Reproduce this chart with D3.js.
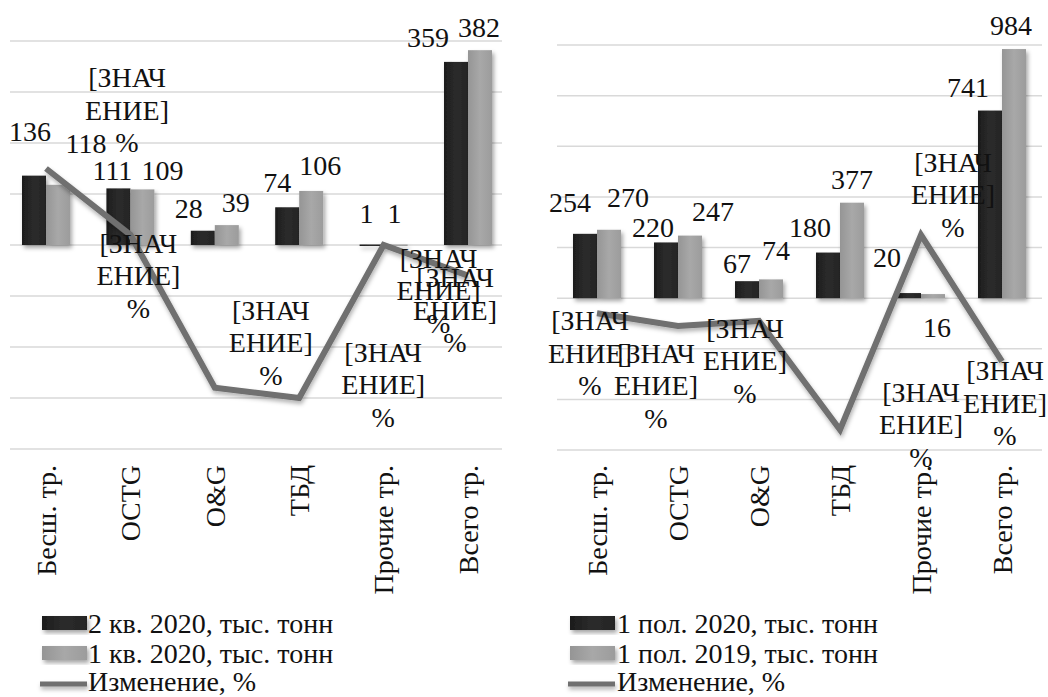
<!DOCTYPE html>
<html>
<head>
<meta charset="utf-8">
<script src="https://cdn.jsdelivr.net/npm/d3@7"></script>
</head>
<body style="margin:0">
<svg id="chart" width="1048" height="697"></svg>
<script>
// ---------- DATA ----------
const categories = ["Бесш. тр.", "OCTG", "O&G", "ТБД", "Прочие тр.", "Всего тр."];

// Left chart: 2 кв. 2020 vs 1 кв. 2020
const leftSeriesNames = ["2 кв. 2020, тыс. тонн", "1 кв. 2020, тыс. тонн", "Изменение, %"];
const leftQ2_2020 = [136, 111, 28, 74, 1, 359];
const leftQ1_2020 = [118, 109, 39, 106, 1, 382];
const leftChange = [15, 2, -28, -30, 0, -6];
const leftPrimaryTicks = [-400, -300, -200, -100, 0, 100, 200, 300, 400];

// Right chart: 1 пол. 2020 vs 1 пол. 2019
const rightSeriesNames = ["1 пол. 2020, тыс. тонн", "1 пол. 2019, тыс. тонн", "Изменение, %"];
const rightH1_2020 = [254, 220, 67, 180, 20, 741];
const rightH1_2019 = [270, 247, 74, 377, 16, 984];
const rightChange = [-6, -11, -9, -52, 25, -25];
const rightPrimaryTicks = [-600, -400, -200, 0, 200, 400, 600, 800, 1000];

const lineLabelText = ["[ЗНАЧ", "ЕНИЕ]", "%"];

// ---------- LAYOUT (label nudges, px) ----------
const leftLayout = {
  xRange: [3.8, 510.2], gridX: [10, 502], yRange: [449, 41],
  y1: [-400, 400], y2: [-40, 40],
  darkNudge: [[-4,-44],[-6,-18],[-14,-23],[-10,-25],[-5,-31],[-28,-25]],
  lightNudge: [[28,-42],[20,-19],[9,-23],[9,-26],[-1,-31],[-1,-23]],
  lineNudge: [[81,-91],[8,8],[56,-78],[84,-46],[55,13],[-13,2]],
  legendX: 42, legendTextX: 88
};
const rightLayout = {
  xRange: [556.5, 1042.5], gridX: [557, 1042], yRange: [450, 45],
  y1: [-600, 1000], y2: [-60, 100],
  darkNudge: [[-15,-32],[-13,-15],[-10,-18],[-18,-25],[-22,-36],[-22,-23]],
  lightNudge: [[19,-33],[23,-24],[5,-29],[0,-23],[4,33],[-3,-24]],
  lineNudge: [[-7,7],[-22,27],[-14,7],[81,-38],[32,-73],[3,9]],
  legendX: 570, legendTextX: 617
};

const FS = 28;
const FONT = "Liberation Serif";

const svg = d3.select("#chart");
const defs = svg.append("defs");

function txt(sel) {
  return sel.attr("font-family", FONT).attr("font-size", FS).attr("fill", "#111");
}

function grad(id, stops) {
  const g = defs.append("linearGradient").attr("id", id)
    .attr("x1", "0").attr("x2", "1").attr("y1", "0").attr("y2", "0");
  stops.forEach(([o, c]) => g.append("stop").attr("offset", o).attr("stop-color", c));
}
grad("gDark", [["0", "#1c1c1c"], ["0.5", "#2c2c2c"], ["1", "#242424"]]);
grad("gLight", [["0", "#959595"], ["0.5", "#a8a8a8"], ["1", "#9c9c9c"]]);

const shadow = defs.append("filter").attr("id", "shadow")
  .attr("x", "-30%").attr("y", "-30%").attr("width", "160%").attr("height", "160%");
shadow.append("feDropShadow").attr("dx", 2).attr("dy", 3).attr("stdDeviation", 2)
  .attr("flood-color", "#000").attr("flood-opacity", 0.35);

const lshadow = defs.append("filter").attr("id", "lshadow")
  .attr("filterUnits", "userSpaceOnUse")
  .attr("x", 0).attr("y", 0).attr("width", 1048).attr("height", 697);
lshadow.append("feDropShadow").attr("dx", 1).attr("dy", 3).attr("stdDeviation", 2)
  .attr("flood-color", "#000").attr("flood-opacity", 0.3);

function drawChart(L, s1, s2, change, ticks, names) {
  const g = svg.append("g");
  const x = d3.scaleBand().domain(categories).range(L.xRange).padding(0);
  const xs = d3.scaleBand().domain([0, 1]).range([0, 48]);
  const y = d3.scaleLinear().domain(L.y1).range(L.yRange);
  const y2 = d3.scaleLinear().domain(L.y2).range(L.yRange);
  const cx = c => x(c) + x.bandwidth() / 2;

  // gridlines
  g.append("g").selectAll("line").data(ticks).join("line")
    .attr("x1", L.gridX[0]).attr("x2", L.gridX[1])
    .attr("y1", d => y(d)).attr("y2", d => y(d))
    .attr("stroke", "#d9d9d9").attr("stroke-width", 1.5);

  // category axis labels (rotated)
  const axis = d3.axisBottom(x).tickSize(0).tickPadding(0);
  const ax = g.append("g").attr("transform", "translate(0,465)").call(axis);
  ax.attr("font-family", FONT).attr("font-size", FS);
  ax.select(".domain").remove();
  txt(ax.selectAll("text"))
    .attr("transform", "rotate(-90)")
    .attr("x", 0).attr("y", 0).attr("dy", "0.35em")
    .attr("text-anchor", "end");

  // bars
  const series = [s1, s2];
  const fills = ["url(#gDark)", "url(#gLight)"];
  series.forEach((vals, si) => {
    g.append("g").attr("filter", "url(#shadow)").selectAll("rect").data(vals).join("rect")
      .attr("x", (d, i) => cx(categories[i]) - 24 + xs(si))
      .attr("width", xs.bandwidth())
      .attr("y", d => Math.min(y(d), y(0)))
      .attr("height", d => Math.max(1.5, Math.abs(y(d) - y(0))))
      .attr("fill", fills[si]);
  });

  // line
  const line = d3.line().x((d, i) => cx(categories[i])).y(d => y2(d)).curve(d3.curveLinear);
  g.append("path").datum(change)
    .attr("d", line).attr("fill", "none")
    .attr("stroke", "#6f6f6f").attr("stroke-width", 6)
    .attr("stroke-linejoin", "miter").attr("filter", "url(#lshadow)");

  // bar labels
  const nudges = [L.darkNudge, L.lightNudge];
  series.forEach((vals, si) => {
    txt(g.append("g").selectAll("text").data(vals).join("text"))
      .attr("x", (d, i) => cx(categories[i]) - 12 + xs(si) + nudges[si][i][0])
      .attr("y", (d, i) => y(d) + nudges[si][i][1])
      .attr("dy", "0.35em").attr("text-anchor", "middle")
      .text(d => d);
  });

  // line labels
  change.forEach((v, i) => {
    const t = txt(g.append("text")).attr("text-anchor", "middle");
    lineLabelText.forEach((s, k) => {
      t.append("tspan")
        .attr("x", cx(categories[i]) + L.lineNudge[i][0])
        .attr("y", y2(v) + L.lineNudge[i][1] + k * 32.5)
        .attr("dy", "0.35em")
        .text(s);
    });
  });

  // legend
  const lg = g.append("g");
  const rows = [623, 653, 681];
  lg.append("rect").attr("x", L.legendX).attr("y", rows[0] - 7).attr("width", 45).attr("height", 14)
    .attr("fill", "url(#gDark)").attr("filter", "url(#shadow)");
  lg.append("rect").attr("x", L.legendX).attr("y", rows[1] - 7).attr("width", 45).attr("height", 14)
    .attr("fill", "url(#gLight)").attr("filter", "url(#shadow)");
  lg.append("line").attr("x1", L.legendX - 2).attr("x2", L.legendX + 45)
    .attr("y1", rows[2] + 3).attr("y2", rows[2] + 3)
    .attr("stroke", "#6f6f6f").attr("stroke-width", 5).attr("filter", "url(#lshadow)");
  names.forEach((n, i) => {
    txt(lg.append("text")).attr("x", L.legendTextX).attr("y", rows[i]).attr("dy", "0.35em").text(n);
  });
}

drawChart(leftLayout, leftQ2_2020, leftQ1_2020, leftChange, leftPrimaryTicks, leftSeriesNames);
drawChart(rightLayout, rightH1_2020, rightH1_2019, rightChange, rightPrimaryTicks, rightSeriesNames);
</script>
</body>
</html>
